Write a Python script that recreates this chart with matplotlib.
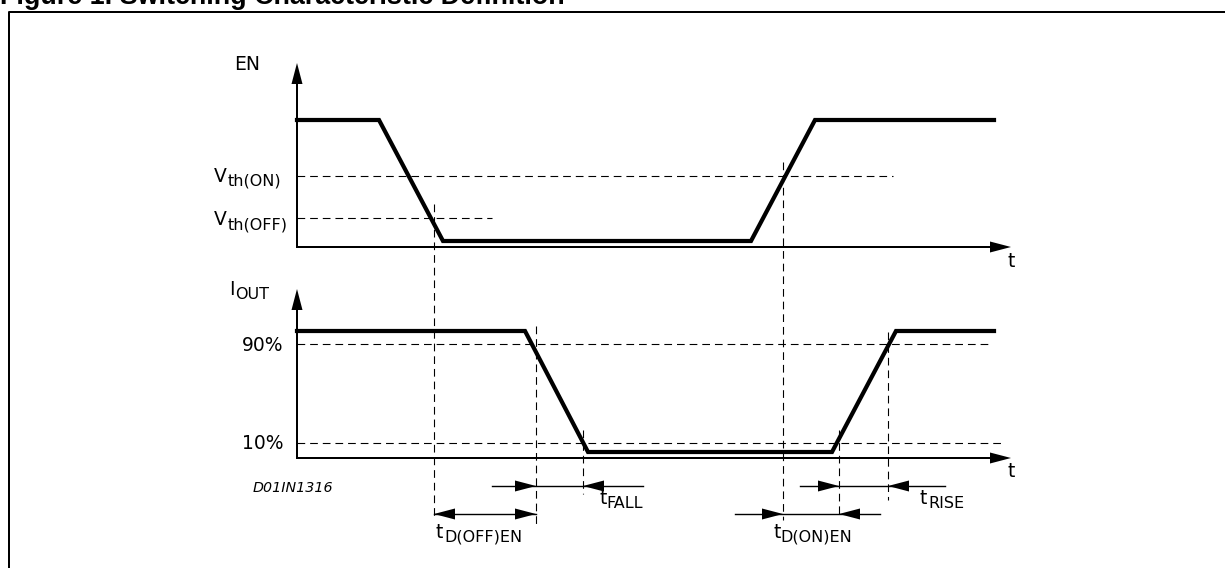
import numpy as np
import matplotlib
matplotlib.use("Agg")
import matplotlib.pyplot as plt

plt.rcParams['font.family'] = ['DejaVu Sans']

# --- diagram data (pixel units of a 1225x568 canvas, y grows downwards) ---
# EN waveform: time points and levels
en_t = [297, 379, 443, 751, 815, 994]
en_v = [120, 120, 241, 241, 120, 120]
# IOUT waveform
iout_t = [297, 525, 588, 832, 896, 994]
iout_v = [331, 331, 452, 452, 331, 331]

# threshold levels (dashed horizontals): level, end of line
vth_on, vth_on_end = 176, 893
vth_off, vth_off_end = 218, 492
i90, i90_end = 344, 990
i10, i10_end = 443, 1004

# timing instants (dashed verticals): x, top, bottom
t_marks = [(434, 204, 518), (536, 326, 527), (583, 430, 494),
           (783, 162, 520), (839, 430, 518), (888, 332, 500)]

# axes: origin x, baseline y, top of y arrow
x0 = 297
x_tip = 1011
en_base, en_top = 247, 63
iout_base, iout_top = 458, 289

# dimension arrows: y, line start, line end, (tip x, direction) list
dims = [
    (514, 434, 536, [(434, -1), (536, 1)]),    # tD(OFF)EN
    (486, 492, 643, [(536, 1), (583, -1)]),    # tFALL
    (514, 735, 880, [(783, 1), (839, -1)]),    # tD(ON)EN
    (486, 800, 945, [(839, 1), (888, -1)]),    # tRISE
]

W, H = 1225, 568
fig = plt.figure(figsize=(W / 100, H / 100), dpi=100)
ax = fig.add_axes([0, 0, 1, 1])
ax.set_xlim(0, W)
ax.set_ylim(H, 0)
ax.axis('off')

PX = 0.72  # points per pixel


def head(tip_x, tip_y, dx, dy, length=21, half=5.5):
    # filled triangular arrow head pointing along (dx, dy)
    bx, by = tip_x - dx * length, tip_y - dy * length
    px_, py_ = -dy * half, dx * half
    ax.fill([tip_x, bx + px_, bx - px_], [tip_y, by + py_, by - py_],
            color='black', lw=0, zorder=5)


# frame and title
ax.plot([8.5, 8.5, W], [H, 12, 12], color='black', lw=2 * PX,
        solid_capstyle='butt')
ax.text(0, 4.5, 'Figure 1. Switching Characteristic Definition',
        fontsize=19.4, fontweight='bold', family='Liberation Sans',
        va='baseline', ha='left')

# axes with arrows
for base, top in [(en_base, en_top), (iout_base, iout_top)]:
    ax.plot([x0, x0, x_tip - 15], [top + 15, base, base], color='black',
            lw=2 * PX, solid_joinstyle='miter')
    head(x0, top, 0, -1)
    head(x_tip, base, 1, 0)

# waveforms
ax.plot(en_t, en_v, color='black', lw=4.2 * PX, solid_joinstyle='miter')
ax.plot(iout_t, iout_v, color='black', lw=4.2 * PX, solid_joinstyle='miter')

# dashed threshold lines
dash = dict(color='black', lw=1.1 * PX, dashes=(7, 4.5))
for lvl, end in [(vth_on, vth_on_end), (vth_off, vth_off_end),
                 (i90, i90_end), (i10, i10_end)]:
    ax.plot([x0, end], [lvl, lvl], **dash)
for x, y1, y2 in t_marks:
    ax.plot([x, x], [y1, y2], **dash)

# dimension arrows
for y, xa, xb, tips in dims:
    ax.plot([xa, xb], [y, y], color='black', lw=1.4 * PX)
    for tx, d in tips:
        head(tx, y, d, 0, length=21, half=5.5)

fig.canvas.draw()
renderer = fig.canvas.get_renderer()


def label(x, y, base, sub=None, size=13.5, subsize=11.5, drop=4, gap=0.5):
    t = ax.text(x, y, base, fontsize=size, va='baseline', ha='left')
    if sub:
        w = t.get_window_extent(renderer).width
        ax.text(x + w + gap, y + drop, sub, fontsize=subsize,
                va='baseline', ha='left')


label(234, 70, 'EN')
label(214, 182, 'V', 'th(ON)')
label(214, 225, 'V', 'th(OFF)')
label(229, 295, 'I', 'OUT')
label(242, 351, '90%')
label(242, 449, '10%')
label(1007, 267, 't')
label(1007, 477, 't')
label(436, 538, 't', 'D(OFF)EN')
label(599, 504, 't', 'FALL')
label(773, 538, 't', 'D(ON)EN')
label(920, 504, 't', 'RISE')
ax.text(253, 492, 'D01IN1316', fontsize=10.3, style='italic',
        va='baseline', ha='left')

fig.savefig('out.png', dpi=100)
